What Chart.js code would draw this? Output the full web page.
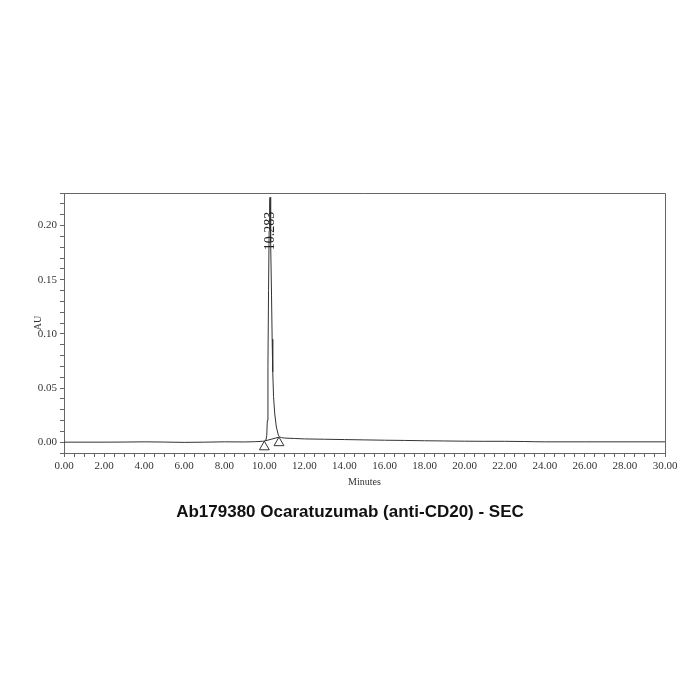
<!DOCTYPE html>
<html>
<head>
<meta charset="utf-8">
<script src="https://cdn.jsdelivr.net/npm/chart.js@4.4.1/dist/chart.umd.min.js"></script>
<style>
  html, body { margin: 0; padding: 0; background: #fff; }
  #wrap { width: 700px; height: 700px; }
</style>
</head>
<body>
<div id="wrap"><canvas id="chart" width="700" height="700"></canvas></div>
<script>
// SEC trace, minutes vs AU
const times = [
  0, 1, 2, 3, 4, 5, 6, 7, 8, 9, 9.5, 9.9, 10.0, 10.08, 10.12, 10.15, 10.18, 10.21,
  10.24, 10.265, 10.283, 10.30, 10.33, 10.36, 10.39, 10.42, 10.46, 10.52, 10.60,
  10.70, 10.75, 10.85, 11.0, 11.5, 12, 13, 14, 15, 16, 17, 18, 19, 20, 21, 22,
  23, 23.5, 24, 26, 28, 30
];
const absorbance = [
  0.0000, 0.0000, 0.0000, 0.0001, 0.0003, 0.0001, -0.0002, 0.0000, 0.0003, 0.0002,
  0.0004, 0.0008, 0.0010, 0.0020, 0.0060, 0.0200, 0.0700, 0.1400,
  0.1950, 0.2200, 0.2260, 0.2180, 0.1850, 0.1350, 0.0950, 0.0650, 0.0420, 0.0260,
  0.0140, 0.0065, 0.0050, 0.0042, 0.0038, 0.0034, 0.0030, 0.0027, 0.0024, 0.0021,
  0.0018, 0.0016, 0.0013, 0.0011, 0.0009, 0.0008, 0.0008, 0.0006, 0.0004, 0.0003,
  0.0003, 0.0003, 0.0003
];

// integration baseline + start/end markers
const baselineTimes  = [10.0, 10.73];
const baselineLevels = [0.0010, 0.0046];
const markerTimes    = [10.0, 10.73];
const markerLevels   = [-0.0044, -0.0006];

// peak annotation
const peakTimes  = [10.283];
const peakLevels = [0.195];
const peakLabels = ['10.283'];

// axis ticks
const xMajorTicks = [0, 2, 4, 6, 8, 10, 12, 14, 16, 18, 20, 22, 24, 26, 28, 30];
const yMajorTicks = [0, 0.05, 0.10, 0.15, 0.20];

const chartTitle = 'Ab179380 Ocaratuzumab (anti-CD20) - SEC';

const pts = (xs, ys) => xs.map((x, i) => ({ x, y: ys[i] }));
const isMajor = (list, v) => list.some(t => Math.abs(t - v) < 1e-6);

const AXIS = '#666';
const TXT  = '#333';
const SERIF = "'Liberation Serif', 'DejaVu Serif', serif";

const frameBox = {
  id: 'frameBox',
  afterDraw(chart) {
    const { ctx, chartArea: a } = chart;
    ctx.save();
    ctx.strokeStyle = AXIS;
    ctx.lineWidth = 1;
    ctx.beginPath();
    ctx.moveTo(a.left, a.top + 0.5);
    ctx.lineTo(a.right + 0.5, a.top + 0.5);
    ctx.lineTo(a.right + 0.5, a.bottom);
    ctx.stroke();
    ctx.restore();
  }
};

// caption under the plot, centred on the page
const caption = {
  id: 'caption',
  afterDraw(chart) {
    const { ctx, width } = chart;
    ctx.save();
    ctx.fillStyle = '#111';
    ctx.font = "bold 17px 'Liberation Sans', Arial, sans-serif";
    ctx.textAlign = 'center';
    ctx.textBaseline = 'middle';
    ctx.fillText(chartTitle, width / 2, 512);
    ctx.restore();
  }
};

const peakText = {
  id: 'peakText',
  afterDatasetsDraw(chart) {
    const { ctx, scales } = chart;
    ctx.save();
    ctx.fillStyle = '#222';
    ctx.font = '14px ' + SERIF;
    ctx.textAlign = 'center';
    ctx.textBaseline = 'middle';
    peakTimes.forEach((t, i) => {
      const px = scales.x.getPixelForValue(t);
      const py = scales.y.getPixelForValue(peakLevels[i]);
      ctx.save();
      ctx.translate(px, py);
      ctx.rotate(-Math.PI / 2);
      ctx.fillText(peakLabels[i], 0, 0);
      ctx.restore();
    });
    ctx.restore();
  }
};

new Chart(document.getElementById('chart'), {
  type: 'line',
  data: {
    datasets: [
      {
        data: pts(times, absorbance),
        borderColor: '#333',
        borderWidth: 1,
        pointRadius: 0,
        tension: 0,
        fill: false,
      },
      {
        data: pts(baselineTimes, baselineLevels),
        borderColor: '#333',
        borderWidth: 1,
        pointRadius: 0,
        fill: false,
      },
      {
        data: pts(markerTimes, markerLevels),
        showLine: false,
        pointStyle: 'triangle',
        pointRadius: 5.7,
        pointBackgroundColor: '#fff',
        pointBorderColor: '#333',
        pointBorderWidth: 1,
      },
    ],
  },
  options: {
    responsive: false,
    animation: false,
    layout: { padding: { top: 193, right: 35, left: 0, bottom: 212 } },
    plugins: {
      legend: { display: false },
      tooltip: { enabled: false },
      title: { display: false },
    },
    scales: {
      x: {
        type: 'linear',
        min: 0, max: 30,
        afterFit: s => { s.height = 35; },
        border: { display: true, color: AXIS },
        grid: { drawOnChartArea: false, drawTicks: true, tickLength: 4, color: AXIS },
        ticks: {
          stepSize: 0.5,
          autoSkip: false,
          maxRotation: 0,
          padding: 3,
          color: TXT,
          font: { family: SERIF, size: 11 },
          callback: v => isMajor(xMajorTicks, v) ? v.toFixed(2) : '',
        },
        title: {
          display: true, text: 'Minutes', color: TXT,
          font: { family: SERIF, size: 10 }, padding: { top: 5, bottom: 0 },
        },
      },
      y: {
        min: -0.01, max: 0.23,
        afterFit: s => { s.width = 64; },
        border: { display: true, color: AXIS },
        grid: { drawOnChartArea: false, drawTicks: true, tickLength: 4, color: AXIS },
        ticks: {
          stepSize: 0.01,
          autoSkip: false,
          padding: 3,
          color: TXT,
          font: { family: SERIF, size: 11 },
          callback: v => isMajor(yMajorTicks, v) ? v.toFixed(2) : '',
        },
        title: {
          display: true, text: 'AU', color: TXT,
          font: { family: SERIF, size: 10 }, padding: { top: 32, bottom: 0 },
        },
      },
    },
  },
  plugins: [frameBox, peakText, caption],
});
</script>
</body>
</html>
